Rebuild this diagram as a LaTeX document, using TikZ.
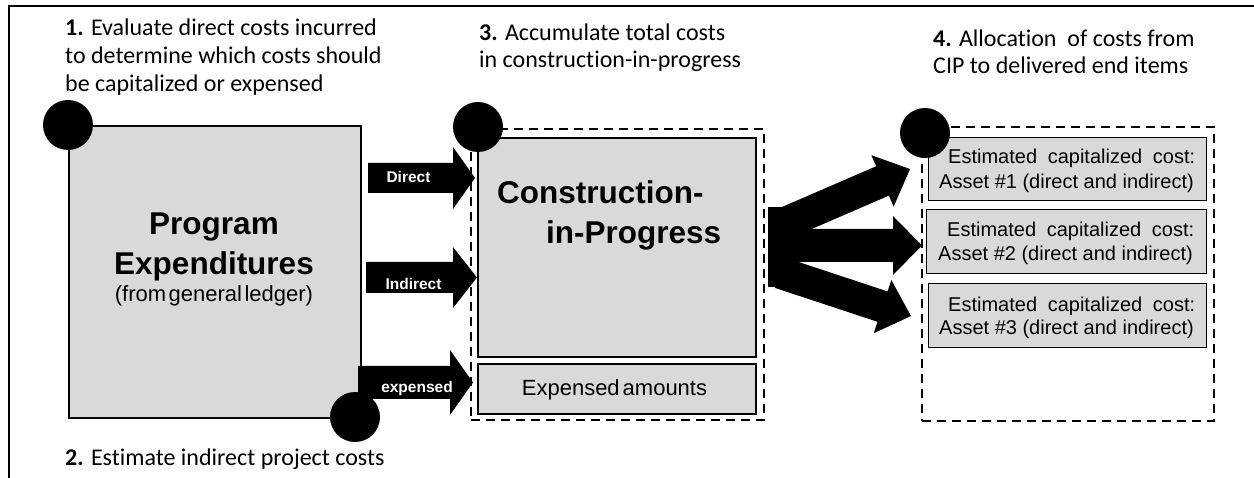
\documentclass[tikz,border=0pt]{standalone}
\usepackage{fontspec}
\setmainfont{Carlito}[Ligatures=NoCommon]
\newfontfamily\arialfont{Liberation Sans}
\definecolor{boxgray}{RGB}{217,217,217}
% #1 x, #2 y (tail centre), #3 angle, #4 length, #5 body half width, #6 head half width, #7 head length
\newcommand\fatarrow[7]{%
  \fill[black, shift={(#1,#2)}, rotate=#3]
    (0,-#5) -- (#4-#7,-#5) -- (#4-#7,-#6) -- (#4,0) -- (#4-#7,#6) -- (#4-#7,#5) -- (0,#5) -- cycle;}
\begin{document}
\begin{tikzpicture}[x=1pt,y=-1pt,
  box/.style={draw=black, fill=boxgray, line width=2pt, inner sep=0pt, anchor=north west},
  assetbox/.style={box, line width=1.4pt},
  dashbox/.style={draw=black, dash pattern=on 9pt off 6pt, line width=1.8pt, inner sep=0pt, anchor=north west},
  dot/.style={circle, fill=black, minimum size=50pt, inner sep=0pt},
  note/.style={inner sep=0pt, anchor=base west, font=\fontsize{24}{29}\selectfont},
  big/.style={inner sep=0pt, anchor=base west, font=\arialfont\bfseries\fontsize{31.5}{36}\selectfont},
  atxt/.style={inner sep=0pt, anchor=base, text=white, font=\arialfont\bfseries\fontsize{15.5}{18}\selectfont},
  stxt/.style={inner sep=0pt, anchor=base west, font=\arialfont\fontsize{20}{24}\selectfont}]
\useasboundingbox (0,0) rectangle (1254,478);
\clip (0,0) rectangle (1254,478);

% outer frame
\draw[line width=1.4pt] (9,495) -- (9,6) -- (1270,6);

% step texts
\node[note] (n1a) at (65,36) {\textbf{1.} Evaluate direct costs incurred};
\node[note] (n1b) at (65,64) {to determine which costs should};
\node[note] (n1c) at (65,92) {be capitalized or expensed};
\node[note] (n3a) at (479,41) {\textbf{3.} Accumulate total costs};
\node[note] (n3b) at (479,68) {in construction-in-progress};
\node[note] (n4a) at (933,47) {\textbf{4.} Allocation\ \ of costs from};
\node[note] (n4b) at (933,74) {CIP to delivered end items};
\node[note] (n2) at (65,465) {\textbf{2.} Estimate indirect project costs};

% program expenditures box
\node[box, minimum width=292pt, minimum height=292pt] (pe) at (68,125) {};
\node[big, anchor=base] (pe1) at (214,235) {Program};
\node[big, anchor=base] (pe2) at (214,275) {Expenditures};
\node[inner sep=0pt, anchor=base, font=\arialfont\fontsize{22}{26}\selectfont] (pe3) at (214,302) {{\spaceskip=2.5pt (from general ledger)}};

% CIP group
\node[dashbox, minimum width=293pt, minimum height=291pt] (cipg) at (470,128) {};
\node[box, minimum width=278pt, minimum height=219pt] (cip) at (477,137) {};
\node[big] (cipt1) at (497,204) {Construction-};
\node[big] (cipt2) at (546,244) {in-Progress};
\node[box, minimum width=278pt, minimum height=50pt] (exp) at (477,363) {};
\node[inner sep=0pt, anchor=base, font=\arialfont\fontsize{22}{26}\selectfont] (expt) at (614.5,396) {{\spaceskip=3pt Expensed amounts}};

% asset group
\node[dashbox, minimum width=292pt, minimum height=294pt] (ag) at (921,126) {};
\node[assetbox, minimum width=278pt, minimum height=63pt] (a1) at (928,137) {};
\node[assetbox, minimum width=280pt, minimum height=64pt] (a2) at (926,209) {};
\node[assetbox, minimum width=278pt, minimum height=64pt] (a3) at (928,283) {};
\node[stxt] (a1a) at (948,164) {\makebox[247pt][s]{Estimated capitalized cost:}};
\node[stxt] (a1b) at (939,189) {Asset \#1 (direct and indirect)};
\node[stxt] (a2a) at (947,237) {\makebox[247pt][s]{Estimated capitalized cost:}};
\node[stxt] (a2b) at (938,261) {Asset \#2 (direct and indirect)};
\node[stxt] (a3a) at (948,312) {\makebox[247pt][s]{Estimated capitalized cost:}};
\node[stxt] (a3b) at (939,335) {Asset \#3 (direct and indirect)};

% left block arrows
\fatarrow{368}{178}{0}{107}{15}{31}{22}
\fatarrow{366}{277.5}{0}{111}{15.5}{30.5}{24}
\fatarrow{358}{382.5}{0}{115}{16.5}{32.5}{23}
\node[atxt] (ld) at (408.5,183) {Direct};
\node[atxt] (li) at (413.5,290) {Indirect};
\node[atxt] (le) at (417,393) {expensed};

% right fan of arrows
\fill[black] (768,207) rectangle (790,287);
\fatarrow{780}{225.3}{23.4}{141.7}{16}{28}{30}
\fatarrow{780}{245.5}{0}{142}{16.5}{29.5}{29}
\fatarrow{780}{272.7}{-18.3}{138}{16}{28}{30}

% step markers
\node[dot] (d1) at (68,125) {};
\node[dot] (d2) at (355,417) {};
\node[dot] (d3) at (478,127) {};
\node[dot] (d4) at (925,133) {};
\end{tikzpicture}
\end{document}
